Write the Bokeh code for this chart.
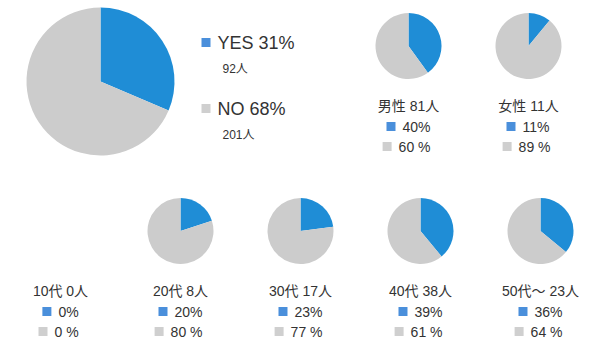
import math
from bokeh.plotting import figure
from bokeh.models import Range1d
from bokeh.core.properties import value
from bokeh.embed import file_html
from bokeh.resources import INLINE

# ---- data ----
total_labels = ["YES", "NO"]
total_counts = [92, 201]
total_pct = [31, 68]

gender_labels = ["男性", "女性"]
gender_counts = [81, 11]
gender_yes = [40, 11]
gender_no = [60, 89]

age_labels = ["10代", "20代", "30代", "40代", "50代〜"]
age_counts = [0, 8, 17, 38, 23]
age_yes = [0, 20, 23, 39, 36]
age_no = [0, 80, 77, 61, 64]

# ---- style ----
BLUE = "#1f8dd6"
GRAY = "#cccccc"
SQ_BLUE = "#4a8fdb"
SQ_GRAY = "#cfcfcf"
TXT = "#333333"
FONT = value("Liberation Sans, Noto Sans CJK JP")

W, H = 579, 343
X0, Y0 = 0, 0  # screen offset of the figure's top-left corner
p = figure(width=W, height=H, output_backend="svg", toolbar_location=None,
           x_range=Range1d(X0, X0 + W), y_range=Range1d(359 - Y0 - H, 359 - Y0),
           min_border=0)
p.axis.visible = False
p.grid.visible = False
p.outline_line_color = None
p.background_fill_color = "white"
p.border_fill_color = "white"


def Y(sy):
    return 359 - sy


def pie(cx, cy, r, yes, no):
    tot = yes + no
    if tot <= 0:
        return
    a0 = math.pi / 2
    a1 = a0 - 2 * math.pi * yes / tot
    if yes > 0:
        p.wedge(x=[cx], y=[Y(cy)], radius=r, radius_units="screen",
                start_angle=a0, end_angle=a1, direction="clock",
                fill_color=BLUE, line_color=None)
    p.wedge(x=[cx], y=[Y(cy)], radius=r, radius_units="screen",
            start_angle=a1, end_angle=a0 - 2 * math.pi, direction="clock",
            fill_color=GRAY, line_color=None)


CW = {"%": 0.889, " ": 0.278}


def tw(s, size):
    return sum(CW.get(c, 0.556) for c in s) * size


def txt(x, sy, s, size, align="left", color=TXT):
    p.text(x=[x], y=[Y(sy)], text=[s], text_font=FONT,
           text_font_size=f"{size}px", text_align=align,
           text_baseline="middle", text_color=color)


def square(x, sy, color, size=9):
    p.scatter(x=[x], y=[Y(sy)], marker="square", size=size,
              fill_color=color, line_color=None)


def panel(cx, cy, label, count, yes, no, ly):
    pie(cx, cy, 33, yes, no)
    txt(cx, ly, f"{label} {count}人", 14, align="center")
    for s, col, dy in [(f"{yes}%", SQ_BLUE, 21), (f" {no} %", SQ_GRAY, 41)]:
        w = 9 + 7 + tw(s, 14)
        start = cx - w / 2
        square(start + 4.5, ly + dy, col)
        txt(start + 16, ly + dy, s, 14)


# big pie
pie(100, 81, 74, total_counts[0], total_counts[1])
big_rows = [(42, 68, SQ_BLUE), (108, 134, SQ_GRAY)]
for (lab, cnt, pc), (ry, cy2, col) in zip(zip(total_labels, total_counts, total_pct), big_rows):
    square(205.5, ry, col)
    txt(217, ry, f"{lab} {pc}%", 18)
    txt(222, cy2, f"{cnt}人", 12)

# gender panels
for i, (lab, cnt, y_, n_) in enumerate(zip(gender_labels, gender_counts, gender_yes, gender_no)):
    panel(408 + 120 * i, 45.5, lab, cnt, y_, n_, 105)

# age panels
for i, (lab, cnt, y_, n_) in enumerate(zip(age_labels, age_counts, age_yes, age_no)):
    panel(60 + 120 * i, 230.5, lab, cnt, y_, n_, 290)

open("out.html", "w").write(file_html(p, INLINE))
